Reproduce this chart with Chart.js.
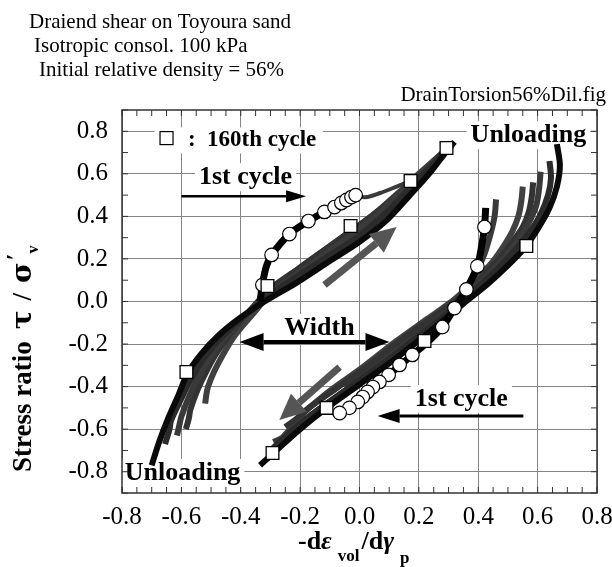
<!DOCTYPE html>
<html>
<head>
<meta charset="utf-8">
<script src="https://cdn.jsdelivr.net/npm/chart.js@4.4.1/dist/chart.umd.min.js"></script>
<style>
  html, body { margin: 0; padding: 0; background: #fff; }
  #wrap { width: 612px; height: 567px; }
</style>
</head>
<body>
<div id="wrap"><canvas id="chart" width="612" height="567"></canvas></div>
<script>
// axis ticks
const xTickValues = [-0.8, -0.6, -0.4, -0.2, 0.0, 0.2, 0.4, 0.6, 0.8];
const yTickValues = [-0.8, -0.6, -0.4, -0.2, 0.0, 0.2, 0.4, 0.6, 0.8];

// loading toward +tau (left branch), one array per cycle: [dilatancy, stress ratio]
const upMain = [[-0.70,-0.77],[-0.675,-0.66],[-0.645,-0.55],[-0.61,-0.44],[-0.58,-0.34],[-0.535,-0.25],[-0.475,-0.16],[-0.405,-0.08],[-0.32,0.0],[-0.21,0.09],[-0.10,0.19],[0.0,0.28],[0.09,0.38],[0.17,0.50],[0.24,0.61],[0.29,0.70],[0.32,0.75]];
const upCycle2 = [[-0.655,-0.67],[-0.64,-0.60],[-0.635,-0.56],[-0.605,-0.47],[-0.57,-0.37],[-0.53,-0.28],[-0.48,-0.19],[-0.42,-0.11],[-0.34,-0.01],[-0.24,0.09],[-0.12,0.20],[0.0,0.31],[0.10,0.43],[0.18,0.55],[0.25,0.65],[0.30,0.73]];
const upCycle3 = [[-0.615,-0.63],[-0.605,-0.57],[-0.60,-0.54],[-0.575,-0.45],[-0.545,-0.36],[-0.505,-0.27],[-0.46,-0.18],[-0.40,-0.09],[-0.32,0.02],[-0.22,0.12],[-0.10,0.24],[0.0,0.34],[0.10,0.46],[0.18,0.57],[0.26,0.67],[0.30,0.72]];
const upCycle4 = [[-0.585,-0.60],[-0.575,-0.55],[-0.57,-0.51],[-0.55,-0.43],[-0.52,-0.34],[-0.485,-0.25],[-0.44,-0.16],[-0.38,-0.06],[-0.30,0.06],[-0.20,0.16],[-0.08,0.28],[0.02,0.38],[0.12,0.49],[0.19,0.58],[0.27,0.68],[0.31,0.73]];
const upCycle5 = [[-0.52,-0.48],[-0.515,-0.43],[-0.51,-0.40],[-0.49,-0.33],[-0.46,-0.25],[-0.42,-0.16],[-0.36,-0.06],[-0.28,0.07],[-0.18,0.18],[-0.06,0.30],[0.04,0.40],[0.13,0.51],[0.20,0.60],[0.28,0.70]];

// loading toward -tau (right branch)
const downMain = [[0.665,0.74],[0.675,0.64],[0.665,0.54],[0.64,0.44],[0.60,0.34],[0.555,0.25],[0.50,0.17],[0.43,0.08],[0.35,-0.01],[0.22,-0.16],[0.11,-0.28],[0.0,-0.39],[-0.11,-0.50],[-0.20,-0.60],[-0.28,-0.70],[-0.335,-0.77]];
const downCycle2 = [[0.64,0.66],[0.645,0.58],[0.635,0.50],[0.61,0.41],[0.575,0.33],[0.53,0.25],[0.47,0.16],[0.40,0.07],[0.31,-0.04],[0.20,-0.16],[0.08,-0.29],[-0.04,-0.41],[-0.14,-0.51],[-0.23,-0.61],[-0.30,-0.70]];
const downCycle3 = [[0.61,0.61],[0.605,0.53],[0.595,0.45],[0.57,0.37],[0.535,0.29],[0.49,0.21],[0.43,0.12],[0.36,0.02],[0.27,-0.08],[0.16,-0.20],[0.05,-0.32],[-0.06,-0.43],[-0.16,-0.53],[-0.24,-0.61],[-0.26,-0.64],[-0.29,-0.66]];
const downCycle4 = [[0.585,0.56],[0.58,0.49],[0.57,0.42],[0.55,0.35],[0.515,0.28],[0.47,0.20],[0.41,0.11],[0.34,0.02],[0.25,-0.07],[0.14,-0.18],[0.03,-0.30],[-0.08,-0.41],[-0.18,-0.51],[-0.22,-0.56],[-0.25,-0.59]];
const downCycle5 = [[0.55,0.54],[0.545,0.47],[0.535,0.40],[0.515,0.33],[0.49,0.27],[0.45,0.19],[0.39,0.10],[0.32,0.01],[0.23,-0.08],[0.12,-0.19],[0.01,-0.31],[-0.10,-0.42],[-0.17,-0.50],[-0.20,-0.54]];
const downCycle6 = [[0.46,0.48],[0.455,0.40],[0.44,0.31],[0.42,0.22],[0.39,0.13],[0.35,0.05],[0.30,-0.02],[0.22,-0.11],[0.13,-0.21],[0.04,-0.31],[-0.05,-0.40]];

// 1st cycle
const firstLoadPath = [[-0.335,0.0],[-0.327,0.078],[-0.315,0.16],[-0.296,0.219],[-0.236,0.317],[-0.172,0.378],[-0.118,0.421],[-0.061,0.463],[-0.013,0.50]];
const firstLoadTail = [[-0.013,0.50],[0.02,0.49],[0.07,0.51],[0.125,0.54],[0.17,0.565]];
const firstLoadMarks = [[-0.327,0.078],[-0.296,0.219],[-0.236,0.317],[-0.172,0.378],[-0.118,0.421],[-0.084,0.444],[-0.061,0.463],[-0.044,0.477],[-0.027,0.491],[-0.013,0.500]];
const firstUnloadPath = [[0.425,0.44],[0.421,0.350],[0.41,0.25],[0.397,0.166],[0.360,0.057],[0.320,-0.031],[0.279,-0.120],[0.23,-0.19],[0.178,-0.251],[0.098,-0.345],[0.045,-0.402],[0.011,-0.449],[-0.034,-0.500],[-0.067,-0.524]];
const firstUnloadMarks = [[0.421,0.350],[0.397,0.166],[0.360,0.057],[0.320,-0.031],[0.279,-0.120],[0.178,-0.251],[0.135,-0.298],[0.098,-0.345],[0.067,-0.378],[0.045,-0.402],[0.027,-0.425],[0.011,-0.449],[-0.006,-0.472],[-0.034,-0.500],[-0.067,-0.524]];

// 160th cycle markers
const cycle160Marks = [[-0.583,-0.331],[-0.310,0.073],[-0.030,0.355],[0.172,0.566],[0.293,0.721],[0.562,0.261],[0.219,-0.186],[-0.111,-0.500],[-0.293,-0.712]];

const toXY = pts => pts.map(([x, y]) => ({ x, y }));

const SERIF = '"Liberation Serif", "Times New Roman", serif';

function cycleLine(pts, color, order, width) {
  return {
    data: toXY(pts), showLine: true, borderColor: color, borderWidth: width || 6,
    pointRadius: 0, tension: 0.3, order
  };
}

// annotation placement in data units
const notes = {
  firstTop: { text: '1st cycle', at: [-0.384, 0.584], from: [-0.60, 0.495], to: [-0.18, 0.495] },
  firstBottom: { text: '1st cycle', at: [0.343, -0.458], from: [0.552, -0.538], to: [0.061, -0.538] },
  width: { text: 'Width', at: [-0.135, -0.125], from: [-0.404, -0.19], to: [0.101, -0.19] },
  unloadTop: { text: 'Unloading', at: [0.569, 0.782] },
  unloadBottom: { text: 'Unloading', at: [-0.596, -0.806] },
  upArrow: { from: [-0.118, 0.078], to: [0.125, 0.35] },
  downArrow: { from: [-0.067, -0.308], to: [-0.27, -0.557] },
  legend: { mark: [-0.65, 0.768], text: ':  160th cycle', at: [-0.578, 0.757] }
};

function arrowHead(ctx, x1, y1, x2, y2, len, half) {
  const a = Math.atan2(y2 - y1, x2 - x1);
  const bx = x2 - len * Math.cos(a), by = y2 - len * Math.sin(a);
  ctx.beginPath();
  ctx.moveTo(x2, y2);
  ctx.lineTo(bx + half * Math.sin(a), by - half * Math.cos(a));
  ctx.lineTo(bx - half * Math.sin(a), by + half * Math.cos(a));
  ctx.closePath();
  ctx.fill();
  return [bx, by];
}

function arrow(ctx, p, q, color, width, len, half, both) {
  ctx.save();
  ctx.strokeStyle = color; ctx.fillStyle = color; ctx.lineWidth = width;
  const end = arrowHead(ctx, p[0], p[1], q[0], q[1], len, half);
  const start = both ? arrowHead(ctx, q[0], q[1], p[0], p[1], len, half) : p;
  ctx.beginPath();
  ctx.moveTo(start[0], start[1]);
  ctx.lineTo(end[0], end[1]);
  ctx.stroke();
  ctx.restore();
}

const boldLabel = 'bold 26px ' + SERIF;
const legendFont = 'bold 23px ' + SERIF;

const decorations = {
  id: 'decorations',
  beforeDatasetsDraw(chart) {
    const { ctx, scales: { x, y } } = chart;
    // white boxes behind the in-plot labels
    ctx.save();
    ctx.font = boldLabel;
    ctx.fillStyle = '#fff';
    ['firstTop', 'firstBottom', 'width', 'unloadTop', 'unloadBottom'].forEach(k => {
      const n = notes[k];
      const w = ctx.measureText(n.text).width;
      ctx.fillRect(x.getPixelForValue(n.at[0]) - w / 2 - 4, y.getPixelForValue(n.at[1]) - 14, w + 8, 28);
    });
    ctx.font = legendFont;
    const lw = ctx.measureText(notes.legend.text).width;
    ctx.fillRect(x.getPixelForValue(notes.legend.mark[0]) - 12, y.getPixelForValue(notes.legend.at[1]) - 13, lw + 40, 26);
    ctx.restore();
  },
  afterDatasetsDraw(chart) {
    const { ctx, chartArea: a, scales: { x, y } } = chart;
    const px = p => [x.getPixelForValue(p[0]), y.getPixelForValue(p[1])];
    ctx.save();

    // frame and minor ticks on all four sides
    ctx.strokeStyle = '#333';
    ctx.lineWidth = 1.5;
    ctx.strokeRect(a.left, a.top, a.right - a.left, a.bottom - a.top);
    ctx.lineWidth = 1;
    ctx.beginPath();
    for (let i = -16; i <= 16; i++) {
      const xp = x.getPixelForValue(i * 0.05);
      ctx.moveTo(xp, a.bottom); ctx.lineTo(xp, a.bottom - 6);
      ctx.moveTo(xp, a.top); ctx.lineTo(xp, a.top + 6);
    }
    for (let i = -9; i <= 9; i++) {
      const yp = y.getPixelForValue(i * 0.1);
      ctx.moveTo(a.left, yp); ctx.lineTo(a.left + 6, yp);
      ctx.moveTo(a.right, yp); ctx.lineTo(a.right - 6, yp);
    }
    ctx.stroke();

    // arrows
    arrow(ctx, px(notes.firstTop.from), px(notes.firstTop.to), '#000', 2.5, 20, 6, false);
    arrow(ctx, px(notes.firstBottom.from), px(notes.firstBottom.to), '#000', 3, 22, 7, false);
    arrow(ctx, px(notes.width.from), px(notes.width.to), '#000', 4, 24, 9, true);
    arrow(ctx, px(notes.upArrow.from), px(notes.upArrow.to), '#555', 7, 26, 12, false);
    arrow(ctx, px(notes.downArrow.from), px(notes.downArrow.to), '#555', 7, 26, 12, false);

    // in-plot labels
    ctx.fillStyle = '#000';
    ctx.textAlign = 'center';
    ctx.textBaseline = 'middle';
    ctx.font = boldLabel;
    ['firstTop', 'firstBottom', 'width', 'unloadTop', 'unloadBottom'].forEach(k => {
      const p = px(notes[k].at);
      ctx.fillText(notes[k].text, p[0], p[1]);
    });

    // legend entry
    const m = px(notes.legend.mark);
    ctx.fillStyle = '#fff';
    ctx.fillRect(m[0] - 6.5, m[1] - 6.5, 13, 13);
    ctx.strokeStyle = '#000';
    ctx.lineWidth = 1.2;
    ctx.strokeRect(m[0] - 6.5, m[1] - 6.5, 13, 13);
    ctx.fillStyle = '#000';
    ctx.textAlign = 'left';
    ctx.font = legendFont;
    const lt = px(notes.legend.at);
    ctx.fillText(notes.legend.text, lt[0], lt[1]);
    ctx.restore();
  },
  afterDraw(chart) {
    const { ctx } = chart;
    ctx.save();
    ctx.fillStyle = '#000';
    ctx.textBaseline = 'alphabetic';

    // header lines
    ctx.font = '21px ' + SERIF;
    ctx.textAlign = 'left';
    ctx.fillText('Draiend shear on Toyoura sand', 29, 28);
    ctx.fillText('Isotropic consol. 100 kPa', 34, 52);
    ctx.fillText('Initial relative density = 56%', 39, 76);
    ctx.textAlign = 'right';
    ctx.fillText('DrainTorsion56%Dil.fig', 606, 101);

    // y axis title, written bottom to top
    ctx.translate(22, 472);
    ctx.rotate(-Math.PI / 2);
    ctx.textAlign = 'left';
    let u = 0;
    const piece = (txt, font, dv, gap) => {
      ctx.font = font;
      ctx.fillText(txt, u, dv);
      u += ctx.measureText(txt).width + (gap || 0);
    };
    piece('Stress ratio', 'bold 27px ' + SERIF, 9, 12);
    piece('\u03c4', 'bold 28px "DejaVu Serif"', 9, 10);
    piece('/', 'bold 27px ' + SERIF, 9, 10);
    piece('\u03c3', 'bold 28px "DejaVu Serif"', 9, 2);
    piece('\u2032', 'bold 24px ' + SERIF, 0, 0);
    piece('v', 'bold 16px ' + SERIF, 16, 0);
    ctx.setTransform(1, 0, 0, 1, 0, 0);

    // x axis title
    u = 298;
    const run = (txt, font, yb) => {
      ctx.font = font;
      ctx.fillText(txt, u, yb);
      u += ctx.measureText(txt).width;
    };
    ctx.textAlign = 'left';
    run('-d', 'bold 26px ' + SERIF, 549);
    run('\u03b5', 'bold italic 26px ' + SERIF, 549);
    u += 6;
    run('vol', 'bold 17px ' + SERIF, 561);
    u += 2;
    run('/d', 'bold 26px ' + SERIF, 549);
    run('\u03b3', 'bold italic 26px ' + SERIF, 549);
    u += 6;
    run('p', 'bold 17px ' + SERIF, 563);
    ctx.restore();
  }
};

const fmt = v => (Math.abs(v) < 1e-9 ? 0 : v).toFixed(1);

const markerStyle = {
  showLine: false, pointBackgroundColor: '#fff', pointBorderColor: '#000'
};

new Chart(document.getElementById('chart'), {
  type: 'scatter',
  data: {
    datasets: [
      { ...markerStyle, data: toXY(cycle160Marks), pointStyle: 'rect', pointRadius: 9, pointBorderWidth: 1.3, order: 0 },
      { ...markerStyle, data: toXY(firstLoadMarks), pointStyle: 'circle', pointRadius: 6.8, pointBorderWidth: 1.2, order: 1 },
      { ...markerStyle, data: toXY(firstUnloadMarks), pointStyle: 'circle', pointRadius: 6.8, pointBorderWidth: 1.2, order: 1 },
      cycleLine(firstLoadPath, '#000', 2, 7),
      cycleLine(firstLoadTail, '#3a3a3a', 2, 4),
      cycleLine(firstUnloadPath, '#000', 2, 7),
      cycleLine(upMain, '#0a0a0a', 3),
      cycleLine(downMain, '#0a0a0a', 3),
      cycleLine(upCycle2, '#2b2b2b', 4),
      cycleLine(upCycle3, '#3a3a3a', 4),
      cycleLine(upCycle4, '#333', 4),
      cycleLine(upCycle5, '#404040', 4),
      cycleLine(downCycle2, '#2b2b2b', 4),
      cycleLine(downCycle3, '#3a3a3a', 4),
      cycleLine(downCycle4, '#333', 4),
      cycleLine(downCycle5, '#404040', 4),
      cycleLine(downCycle6, '#3a3a3a', 4)
    ]
  },
  options: {
    responsive: false,
    devicePixelRatio: 1,
    animation: false,
    layout: { padding: { left: 0, top: 110, right: 15, bottom: 0 } },
    plugins: { legend: { display: false }, tooltip: { enabled: false } },
    scales: {
      x: {
        type: 'linear', min: -0.8, max: 0.8,
        afterBuildTicks: s => { s.ticks = xTickValues.map(v => ({ value: v })); },
        afterFit: s => { s.height = 74; s.paddingLeft = 0; s.paddingRight = 0; },
        ticks: { color: '#000', font: { family: SERIF, size: 25 }, padding: 9, maxRotation: 0, callback: fmt },
        grid: { color: '#858585', lineWidth: 1, drawTicks: false },
        border: { display: false }
      },
      y: {
        type: 'linear', min: -0.9, max: 0.9,
        afterBuildTicks: s => { s.ticks = yTickValues.map(v => ({ value: v })); },
        afterFit: s => { s.width = 122; s.paddingTop = 0; s.paddingBottom = 0; },
        ticks: { color: '#000', font: { family: SERIF, size: 25 }, padding: 14, callback: fmt },
        grid: { color: '#858585', lineWidth: 1, drawTicks: false },
        border: { display: false }
      }
    }
  },
  plugins: [decorations]
});
</script>
</body>
</html>
